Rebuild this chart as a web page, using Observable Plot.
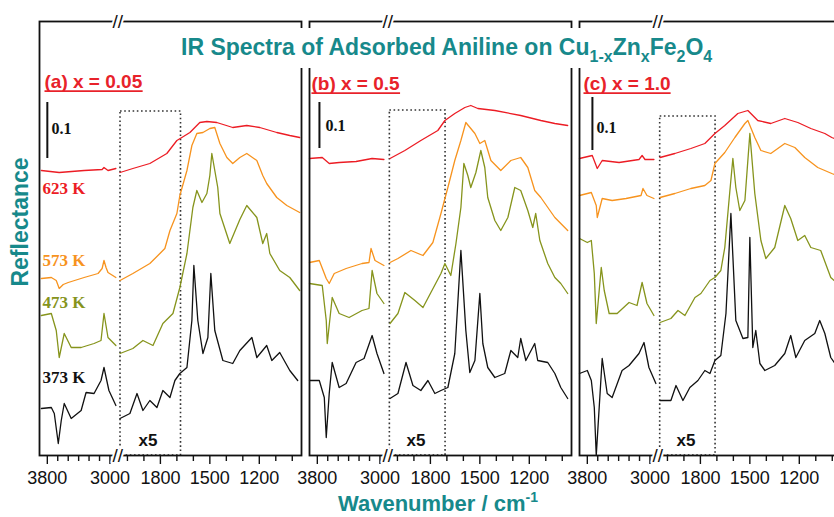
<!DOCTYPE html>
<html><head><meta charset="utf-8">
<script src="https://cdn.jsdelivr.net/npm/d3@7"></script>
<script src="https://cdn.jsdelivr.net/npm/@observablehq/plot@0.6"></script>
<style>
html,body{margin:0;padding:0;background:#fff;overflow:hidden;}
#wrap{position:relative;width:843px;height:517px;overflow:hidden;background:#fff;}
#chart svg{display:block;}
#titlebg{position:absolute;left:176px;top:28px;width:550px;height:40px;background:#fff;}
#title{position:absolute;left:181px;top:36px;font:bold 23px/22px "Liberation Sans",Arial,sans-serif;color:#17898b;white-space:nowrap;}
#title .sb{font-size:16px;position:relative;top:7px;}
#ylab{position:absolute;left:-80px;top:207px;width:200px;height:30px;line-height:30px;text-align:center;font:bold 23px/30px "Liberation Sans",Arial,sans-serif;color:#17898b;transform:rotate(-90deg);white-space:nowrap;}
#xlab{position:absolute;left:338px;top:493px;font:bold 22px/22px "Liberation Sans",Arial,sans-serif;color:#17898b;white-space:nowrap;}
#xlab .sp{font-size:14px;position:relative;top:-9px;}
</style></head><body>
<div id="wrap">
<div id="chart"></div>
<div id="titlebg"></div>
<div id="title">IR Spectra of Adsorbed Aniline on Cu<span class="sb">1-x</span>Zn<span class="sb">x</span>Fe<span class="sb">2</span>O<span class="sb">4</span></div>
<div id="ylab">Reflectance</div>
<div id="xlab">Wavenumber / cm<span class="sp">-1</span></div>
</div>
<script>
// ---------- data: [wavenumber (cm-1), reflectance x1000 (offset traces)] ----------
const panels = ["a", "b", "c"];
const panelNames = ["(a) x = 0.05", "(b) x = 0.5", "(c) x = 1.0"];
const temps = ["623 K", "573 K", "473 K", "373 K"];

// panel (a) x = 0.05
const a623L = [[3876,570],[3648,566],[3330,570],[3100,572],[3076,576],[3025,570],[2924,574]];
const a623R = [[2045,566],[1967,574],[1864,584],[1761,604],[1700,630],[1670,636],[1621,646],[1561,666],[1518,668],[1458,666],[1361,656],[1276,660],[1197,656],[1094,646],[1015,640],[955,636]];
const a573L = [[3876,354],[3749,356],[3686,350],[3648,334],[3597,342],[3533,346],[3330,356],[3152,364],[3100,374],[3076,390],[3050,376],[3025,366],[2924,356]];
const a573R = [[2045,350],[1967,364],[1864,384],[1803,404],[1773,414],[1742,450],[1700,484],[1682,520],[1639,570],[1609,620],[1579,644],[1542,646],[1500,654],[1470,656],[1439,624],[1397,596],[1361,584],[1318,596],[1276,604],[1215,590],[1179,560],[1155,544],[1094,516],[1033,500],[955,486]];
const a473L = [[3876,280],[3749,284],[3686,250],[3648,196],[3584,244],[3495,216],[3368,216],[3203,224],[3114,230],[3076,284],[3025,236],[2924,220]];
const a473R = [[2045,204],[1967,214],[1906,230],[1845,220],[1785,264],[1724,284],[1682,336],[1639,404],[1603,496],[1579,530],[1548,506],[1518,524],[1500,560],[1488,604],[1470,570],[1452,536],[1439,484],[1379,424],[1318,472],[1276,500],[1215,476],[1179,424],[1155,444],[1136,404],[1076,370],[1015,356],[955,330]];
const a373L = [[3876,94],[3749,96],[3711,84],[3660,24],[3622,70],[3584,104],[3495,74],[3368,90],[3305,126],[3203,124],[3114,150],[3076,176],[3013,130],[2924,100]];
const a373R = [[2045,74],[1985,84],[1942,124],[1906,90],[1864,110],[1821,96],[1785,130],[1742,116],[1712,150],[1682,164],[1639,176],[1609,270],[1597,380],[1573,270],[1542,204],[1512,236],[1494,364],[1470,250],[1421,190],[1361,184],[1318,210],[1245,236],[1215,196],[1155,220],[1124,190],[1076,206],[1015,170],[967,150]];

// panel (b) x = 0.5
const b623L = [[3900,594],[3737,596],[3648,584],[3521,586],[3305,588],[3100,594],[2949,592]];
const b623R = [[2045,594],[1955,610],[1858,630],[1755,650],[1712,670],[1652,684],[1591,696],[1555,700],[1512,694],[1409,690],[1252,680],[1130,670],[1045,664],[967,660]];
const b573L = [[3900,386],[3775,390],[3686,354],[3648,344],[3584,364],[3432,374],[3229,384],[3140,386],[3114,414],[3063,390],[2949,380]];
const b573R = [[2045,386],[1997,394],[1918,410],[1845,400],[1785,426],[1736,484],[1712,514],[1694,536],[1652,590],[1615,630],[1585,666],[1530,644],[1500,624],[1470,630],[1433,590],[1373,570],[1312,590],[1252,596],[1209,576],[1167,530],[1130,516],[1045,476],[967,450]];
const b473L = [[3900,344],[3737,340],[3686,270],[3673,224],[3610,316],[3521,284],[3394,276],[3229,290],[3140,294],[3100,370],[3038,324],[2949,304]];
const b473R = [[2045,264],[1997,284],[1955,326],[1894,310],[1845,296],[1797,326],[1736,364],[1712,384],[1676,360],[1645,424],[1615,496],[1597,584],[1573,560],[1555,536],[1524,566],[1494,610],[1470,576],[1452,516],[1409,470],[1373,450],[1330,476],[1288,536],[1252,530],[1209,490],[1179,456],[1161,484],[1136,430],[1088,384],[1045,356],[1009,344],[967,324]];
const b373L = [[3900,150],[3775,150],[3711,116],[3686,36],[3648,124],[3610,186],[3521,136],[3432,144],[3305,186],[3203,194],[3100,240],[3038,204],[2949,164]];
const b373R = [[2045,114],[1997,124],[1948,186],[1906,140],[1858,130],[1815,150],[1773,124],[1736,130],[1694,136],[1652,204],[1615,410],[1585,250],[1561,166],[1530,190],[1500,324],[1482,224],[1452,176],[1409,156],[1349,164],[1312,210],[1270,196],[1252,234],[1221,190],[1167,224],[1149,190],[1088,186],[1045,164],[1009,136],[967,114]];

// panel (c) x = 1.0
const c623L = [[3900,594],[3737,600],[3673,574],[3610,590],[3394,586],[3140,592],[3100,600],[3063,592],[2949,592]];
const c623R = [[2045,596],[1955,604],[1858,614],[1773,624],[1712,644],[1652,660],[1573,684],[1512,690],[1452,670],[1373,664],[1288,674],[1209,666],[1130,654],[1045,644],[1003,636],[955,630]];
const c573L = [[3900,520],[3749,526],[3686,500],[3673,476],[3610,514],[3483,510],[3305,514],[3114,520],[3089,534],[3038,520],[2949,514]];
const c573R = [[2045,516],[1955,524],[1858,534],[1773,540],[1736,550],[1712,584],[1652,606],[1591,636],[1530,664],[1512,670],[1470,636],[1433,610],[1373,604],[1288,624],[1227,616],[1167,596],[1088,576],[1003,564],[955,558]];
const c473L = [[3900,434],[3800,426],[3749,430],[3711,364],[3686,264],[3622,376],[3584,330],[3521,284],[3419,284],[3267,306],[3165,300],[3100,346],[3038,304],[2949,280]];
const c473R = [[2045,266],[1979,274],[1936,290],[1894,280],[1833,316],[1797,324],[1742,350],[1712,356],[1676,370],[1652,416],[1621,530],[1603,594],[1585,536],[1561,490],[1530,510],[1500,644],[1470,524],[1433,430],[1403,394],[1349,416],[1288,500],[1252,474],[1209,430],[1167,440],[1130,416],[1070,410],[1009,356],[955,340]];
const c373L = [[3900,164],[3800,170],[3749,150],[3711,96],[3686,0],[3610,194],[3546,124],[3483,116],[3356,170],[3267,180],[3140,204],[3076,226],[3013,176],[2924,144]];
const c373R = [[2045,110],[1979,110],[1948,140],[1906,110],[1864,136],[1815,150],[1773,170],[1742,164],[1712,190],[1676,200],[1645,284],[1615,484],[1585,270],[1542,234],[1512,236],[1500,436],[1482,216],[1464,250],[1439,184],[1409,170],[1349,180],[1288,204],[1252,240],[1221,196],[1167,230],[1106,244],[1076,270],[1045,244],[1009,196],[955,170]];

// axis ticks (cm-1)
const majorTicks = [3800, 3000, 1800, 1500, 1200];
const minorTicks = [3667, 3533, 3400, 3267, 3133, 2000, 1900, 1700, 1600, 1400, 1300, 1100, 1000];

// annotations
const scaleBars = [
  {panel: "a", w: 3800, lo: 594, hi: 706, tw: 3747, tv: 654},
  {panel: "b", w: 3773, lo: 614, hi: 706, tw: 3696, tv: 660},
  {panel: "c", w: 3735, lo: 610, hi: 716, tw: 3684, tv: 656}
];
const zoomBoxes = [
  {panel: "a", w1: 2042, w2: 1675, top: 688, lw: 1875, lv: 30},
  {panel: "b", w1: 2046, w2: 1708, top: 690, lw: 1887, lv: 30},
  {panel: "c", w1: 2044, w2: 1708, top: 678, lw: 1887, lv: 30}
];
const panelLabelPos = [
  {panel: "a", w: 3836, v: 748},
  {panel: "b", w: 3875, v: 744},
  {panel: "c", w: 3849, v: 744}
];
const tempLabels = [
  {panel: "a", temp: "623 K", w: 3862, v: 534},
  {panel: "a", temp: "573 K", w: 3862, v: 390},
  {panel: "a", temp: "473 K", w: 3862, v: 306},
  {panel: "a", temp: "373 K", w: 3862, v: 156}
];

// ---------- build ----------
const colors = ["#ec1c24", "#f7931e", "#86941c", "#111111"];
const labelRed = "#e8222a";
const leftX = d3.scaleLinear().domain([3900, 2920]).range([0, 77]);
const rightX = d3.scaleLinear().domain([2050, 950]).range([80, 262]);
const U = w => (w > 2500 ? leftX(w) : rightX(w));
const BREAK_U = (leftX(2920) + rightX(2050)) / 2;

const series = [
  ["a","623 K",a623L,a623R],["a","573 K",a573L,a573R],["a","473 K",a473L,a473R],["a","373 K",a373L,a373R],
  ["b","623 K",b623L,b623R],["b","573 K",b573L,b573R],["b","473 K",b473L,b473R],["b","373 K",b373L,b373R],
  ["c","623 K",c623L,c623R],["c","573 K",c573L,c573R],["c","473 K",c473L,c473R],["c","373 K",c373L,c373R]
];
const rows = [];
for (const [panel, temp, L, R] of series) {
  for (const [seg, arr] of [["L", L], ["R", R]]) {
    for (const [w, v] of arr) rows.push({panel, temp, seg, w, v});
  }
}
const labelByU = new Map(majorTicks.map(w => [U(w), String(w)]));
const panelLabels = panelLabelPos.map((d, i) => ({...d, label: panelNames[i]}));

const plot = Plot.plot({
  width: 843, height: 517,
  marginLeft: 38, marginRight: 0, marginTop: 21, marginBottom: 62,
  fx: {domain: panels, paddingInner: 0.0295, paddingOuter: 0, axis: null, label: null},
  x: {domain: [0, 263]},
  y: {domain: [0, 868], axis: null},
  color: {domain: temps, range: colors},
  style: {fontFamily: "'Liberation Sans', Arial, sans-serif", fontSize: "18px", color: "#111", background: "#fff", maxWidth: "none", overflow: "visible"},
  marks: [
    Plot.rect(zoomBoxes, {fx: "panel", x1: d => U(d.w1), x2: d => U(d.w2), y1: 0, y2: "top", fill: "none", stroke: "#333", strokeWidth: 1.6, strokeDasharray: "1.6,2.6"}),
    Plot.line(rows, {fx: "panel", x: d => U(d.w), y: "v", z: d => d.panel + d.temp + d.seg, stroke: "temp", strokeWidth: 1.3}),
    Plot.frame({stroke: "#111", strokeWidth: 1.8}),
    Plot.axisX(minorTicks.map(U), {tickSize: 6, tickFormat: () => "", strokeWidth: 1.4, label: null}),
    Plot.axisX(majorTicks.map(U), {tickSize: 9, tickPadding: 7, tickFormat: u => labelByU.get(u), strokeWidth: 1.4, label: null}),
    Plot.text([868, 0], {x: () => BREAK_U, y: d => d, text: () => "//", fontSize: 19, fill: "#111", stroke: "#fff", strokeWidth: 4, lineAnchor: "middle"}),
    Plot.ruleX(scaleBars, {fx: "panel", x: d => U(d.w), y1: "lo", y2: "hi", stroke: "#111", strokeWidth: 2}),
    Plot.text(scaleBars, {fx: "panel", x: d => U(d.tw), y: "tv", text: () => "0.1", fontFamily: "'Liberation Serif', 'Times New Roman', serif", fontWeight: "bold", fontSize: 16, textAnchor: "start", fill: "#111"}),
    Plot.text(zoomBoxes, {fx: "panel", x: d => U(d.lw), y: "lv", text: () => "x5", fontWeight: "bold", fontSize: 17, fill: "#111"}),
    Plot.text(panelLabels, {fx: "panel", x: d => U(d.w), y: "v", text: "label", fill: labelRed, fontWeight: "bold", fontSize: 19, textAnchor: "start"}),
    Plot.text(tempLabels, {fx: "panel", x: d => U(d.w), y: "v", text: "temp", fill: "temp", fontFamily: "'Liberation Serif', 'Times New Roman', serif", fontWeight: "bold", fontSize: 17, textAnchor: "start"})
  ]
});
document.getElementById("chart").append(plot);

// underline the panel labels
d3.select(plot).selectAll("text")
  .filter(function () { return panelNames.includes(this.textContent); })
  .each(function () {
    const b = this.getBBox();
    const t = this.getAttribute("transform");
    const ln = d3.select(this.parentNode).append("line")
      .attr("x1", b.x).attr("x2", b.x + b.width)
      .attr("y1", b.y + b.height - 0.5).attr("y2", b.y + b.height - 0.5)
      .attr("stroke", labelRed).attr("stroke-width", 1.8);
    if (t) ln.attr("transform", t);
  });
</script>
</body></html>
